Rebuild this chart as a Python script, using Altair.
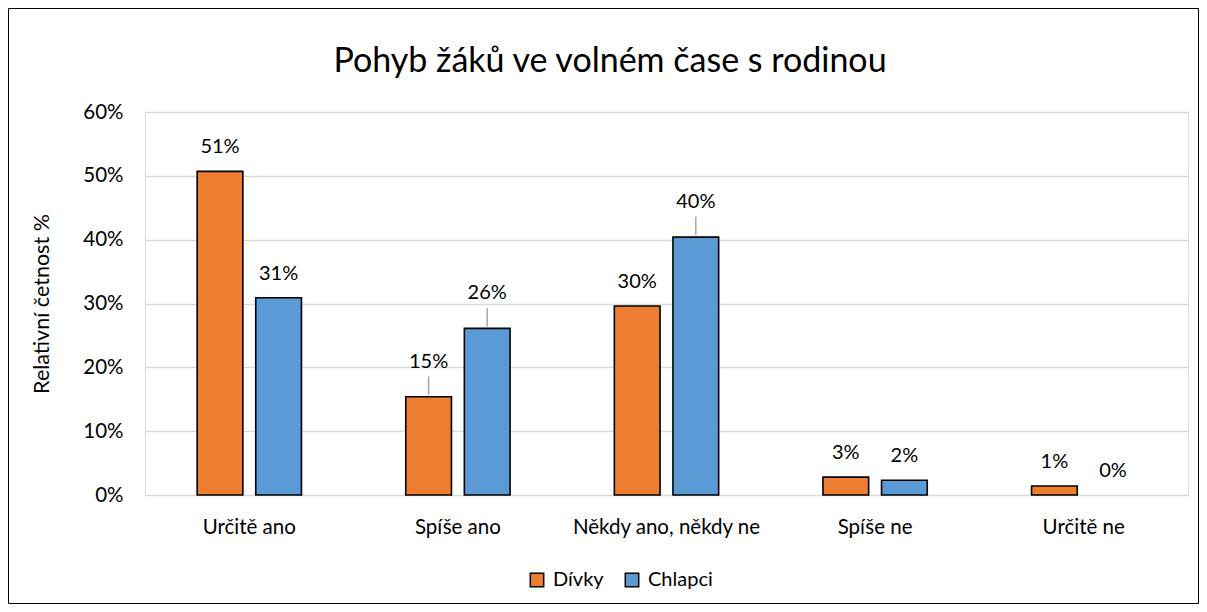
import altair as alt
import pandas as pd

categories = ["Určitě ano", "Spíše ano", "Někdy ano, někdy ne", "Spíše ne", "Určitě ne"]
series = ["Dívky", "Chlapci"]
divky = [50.7, 15.4, 29.6, 2.8, 1.4]
chlapci = [30.9, 26.1, 40.4, 2.3, 0.0]
leader_divky = [False, True, False, False, False]
leader_chlapci = [False, True, True, False, False]
colors = ["#ED7D31", "#5B9BD5"]
y_ticks = [0, 10, 20, 30, 40, 50, 60]
title_text = "Pohyb žáků ve volném čase s rodinou"

rows = []
for i, c in enumerate(categories):
    rows.append(dict(cat=c, ser=series[0], v=divky[i], lead=leader_divky[i]))
    rows.append(dict(cat=c, ser=series[1], v=chlapci[i], lead=leader_chlapci[i]))
df = pd.DataFrame(rows)
df["label"] = df["v"].round().astype(int).astype(str) + "%"

FONT = "Lato"
W, H = 1043, 383
PL, PT, PR, PB = 137, 104, 11, 109

x_enc = alt.X("cat:N", sort=categories,
              scale=alt.Scale(paddingInner=0.5, paddingOuter=0.25),
              axis=alt.Axis(title=None, labelAngle=0, labelFontSize=20.5, labelPadding=22,
                            labelLimit=0, domain=False, ticks=False, labelColor="#000000",
                            labelFont=FONT))
xo_enc = alt.XOffset("ser:N", sort=series, scale=alt.Scale(paddingInner=0.22, paddingOuter=0))
y_enc = alt.Y("v:Q", scale=alt.Scale(domain=[0, 60], nice=False),
              axis=alt.Axis(values=y_ticks, labelExpr="datum.value + '%'", title="Relativní četnost %",
                            titleFontSize=21.5, titleFontWeight="normal", titleFont=FONT, titleColor="#000000",
                            titlePadding=29, labelFontSize=20.5, labelPadding=22, labelFont=FONT,
                            labelColor="#000000", domain=False, ticks=False,
                            gridColor="#d9d9d9", gridWidth=1.5))

base = alt.Chart(df)

bars = base.transform_filter("datum.v > 0").mark_bar(stroke="black", strokeWidth=1.6).encode(
    x=x_enc, xOffset=xo_enc, y=y_enc,
    fill=alt.Fill("ser:N", sort=series, scale=alt.Scale(domain=series, range=colors),
                  legend=alt.Legend(title=None, orient="none", legendX=382, legendY=458,
                                    direction="horizontal", symbolType="square", symbolSize=180,
                                    symbolStrokeColor="black", symbolStrokeWidth=1.5,
                                    labelFontSize=20, labelFont=FONT, labelColor="#000000",
                                    labelOffset=6, columnPadding=18)),
)

labels_plain = base.transform_filter("!datum.lead").mark_text(
    dy=-24, fontSize=20, font=FONT, color="#000000").encode(
    x=x_enc, xOffset=xo_enc, y=y_enc, text="label:N")

labels_lead = base.transform_filter("datum.lead").mark_text(
    dy=-35, fontSize=20, font=FONT, color="#000000").encode(
    x=x_enc, xOffset=xo_enc, y=y_enc, text="label:N")

leaders = base.transform_filter("datum.lead").transform_calculate(
    lo="datum.v + 0.3", hi="datum.v + 3.2").mark_rule(color="#a6a6a6", strokeWidth=1.5).encode(
    x=x_enc, xOffset=xo_enc, y=alt.Y("lo:Q"), y2="hi:Q")

border = alt.Chart(alt.Data(values=[{"a": 1}])).mark_rect(
    filled=False, stroke="black", strokeWidth=1).encode(
    x=alt.value(-PL + 0.5), x2=alt.value(W + PR - 0.5),
    y=alt.value(-PT + 0.5), y2=alt.value(H + PB - 0.5))

title = alt.Chart(alt.Data(values=[{"t": title_text}])).mark_text(
    fontSize=34, font=FONT, color="#000000", baseline="alphabetic", align="center").encode(
    text="t:N", x=alt.value(465), y=alt.value(-40))

chart = alt.layer(border, bars, leaders, labels_plain, labels_lead, title).properties(
    width=W, height=H,
    autosize=alt.AutoSizeParams(type="none"),
    padding={"left": PL, "top": PT, "right": PR, "bottom": PB},
).configure_view(stroke=None).configure(background="white")

chart.save("out.html", embed_options={"renderer": "svg", "actions": False})
